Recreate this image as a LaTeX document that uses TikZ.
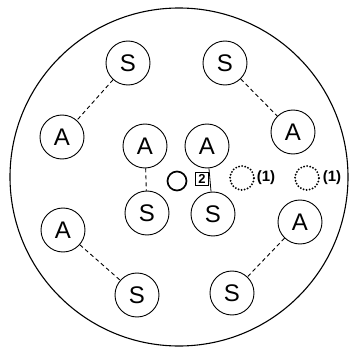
\documentclass[tikz,border=0pt]{standalone}
\usepackage{fontspec}
\setmainfont{Liberation Sans}
\begin{document}
\begin{tikzpicture}[x=1pt,y=-1pt,
  unit/.style={draw,circle,line width=0.9pt,minimum size=44pt,inner sep=0pt,font=\fontsize{24}{24}\selectfont},
  link/.style={line width=0.9pt,dash pattern=on 4pt off 3pt},
  ghost/.style={draw,circle,line width=2.1pt,minimum size=24pt,inner sep=0pt,dash pattern=on 0pt off 3.1pt,line cap=round},
  lbl/.style={font=\fontsize{15}{15}\selectfont\bfseries,inner sep=0pt}]
\useasboundingbox (0,0) rectangle (349,348);
\node[draw,circle,line width=1.1pt,minimum size=338pt,inner sep=0pt] (outer) at (179,177) {};
\node[unit] (S1) at (128,63) {S};
\node[unit] (S2) at (225,63) {S};
\node[unit] (A1) at (62,137) {A};
\node[unit] (A2) at (293,132) {A};
\node[unit] (A3) at (145,146) {A};
\node[unit] (A4) at (207,146) {A};
\node[unit] (S3) at (147,213) {S};
\node[unit] (S4) at (213,214) {S};
\node[unit] (A5) at (63,230) {A};
\node[unit] (A6) at (300,222) {A};
\node[unit] (S5) at (137,295) {S};
\node[unit] (S6) at (232,293) {S};
\draw[link] (S1) -- (A1);
\draw[link] (S2) -- (A2);
\draw[link] (A3) -- (S3);
\draw[line width=0.8pt] (A4) -- (S4);
\draw[link] (A5) -- (S5);
\draw[link] (A6) -- (S6);
\node[draw,circle,line width=1.7pt,minimum size=19pt,inner sep=0pt] (core) at (177,181) {};
\node[draw,line width=1.2pt,minimum size=13pt,inner sep=0pt,font=\fontsize{13}{13}\selectfont\bfseries] (sq) at (202,179) {2};
\node[ghost] (g1) at (242,178) {};
\node[ghost] (g2) at (307,178) {};
\node[lbl] (l1) at (266,178) {(1)};
\node[lbl] (l2) at (332,178) {(1)};
\end{tikzpicture}
\end{document}
